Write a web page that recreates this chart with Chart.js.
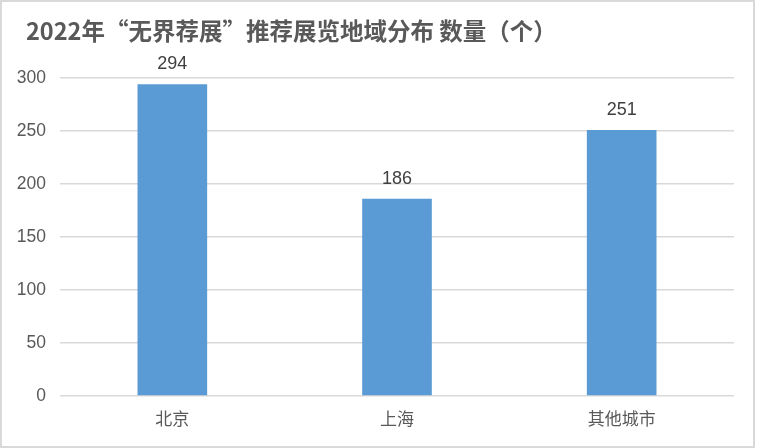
<!DOCTYPE html>
<html>
<head>
<meta charset="utf-8">
<script src="https://cdn.jsdelivr.net/npm/chart.js@4"></script>
<style>
  body { margin: 0; background: #fff; }
  #wrap { position: relative; width: 758px; height: 448px; }
  #frame { position: absolute; left: 0; top: 0; width: 751px; height: 444px; border: 2px solid #d9d9d9; pointer-events: none; }
</style>
</head>
<body>
<div id="wrap">
  <canvas id="chart" width="758" height="448"></canvas>
  <div id="frame"></div>
</div>
<script>
const titleText = '2022年“无界荐展”推荐展览地域分布 数量（个）';
const categories = ['北京', '上海', '其他城市'];
const counts = [294, 186, 251];
const yTicks = [0, 50, 100, 150, 200, 250, 300];

// titel + label nilai di atas batang
const extras = {
    id: 'extras',
    afterDatasetsDraw(chart) {
        const ctx = chart.ctx;
        ctx.save();
        ctx.fillStyle = '#595959';
        ctx.font = 'bold 23.5px "Noto Sans CJK SC", "Liberation Sans", sans-serif';
        ctx.textBaseline = 'middle';
        ctx.textAlign = 'left';
        ctx.fillText(titleText, 26, 31);

        ctx.fillStyle = '#404040';
        ctx.font = '18px "Liberation Sans", Arial, sans-serif';
        ctx.textAlign = 'center';
        ctx.textBaseline = 'bottom';
        chart.getDatasetMeta(0).data.forEach((bar, i) => {
            ctx.fillText(counts[i], bar.x, bar.y - 11);
        });
        ctx.restore();
    }
};

new Chart(document.getElementById('chart'), {
    type: 'bar',
    data: {
        labels: categories,
        datasets: [{
            data: counts,
            backgroundColor: '#5b9bd5',
            categoryPercentage: 1,
            barPercentage: 0.31
        }]
    },
    options: {
        responsive: false,
        animation: false,
        layout: { padding: { left: 0, right: 24, top: 78, bottom: 0 } },
        plugins: { legend: { display: false }, tooltip: { enabled: false } },
        scales: {
            x: {
                grid: { display: false },
                border: { display: false },
                ticks: { color: '#595959', font: { size: 17, family: '"Noto Sans CJK SC", sans-serif' }, padding: 4 },
                afterFit(scale) { scale.height = 52; }
            },
            y: {
                min: 0,
                max: 300,
                afterBuildTicks(scale) { scale.ticks = yTicks.map(v => ({ value: v })); },
                grid: { color: '#d9d9d9', lineWidth: 1.5, drawTicks: false },
                border: { display: false },
                ticks: { color: '#595959', font: { size: 17.5, family: '"Liberation Sans", Arial, sans-serif' }, padding: 14 },
                afterFit(scale) { scale.width = 60; }
            }
        }
    },
    plugins: [extras]
});
</script>
</body>
</html>
